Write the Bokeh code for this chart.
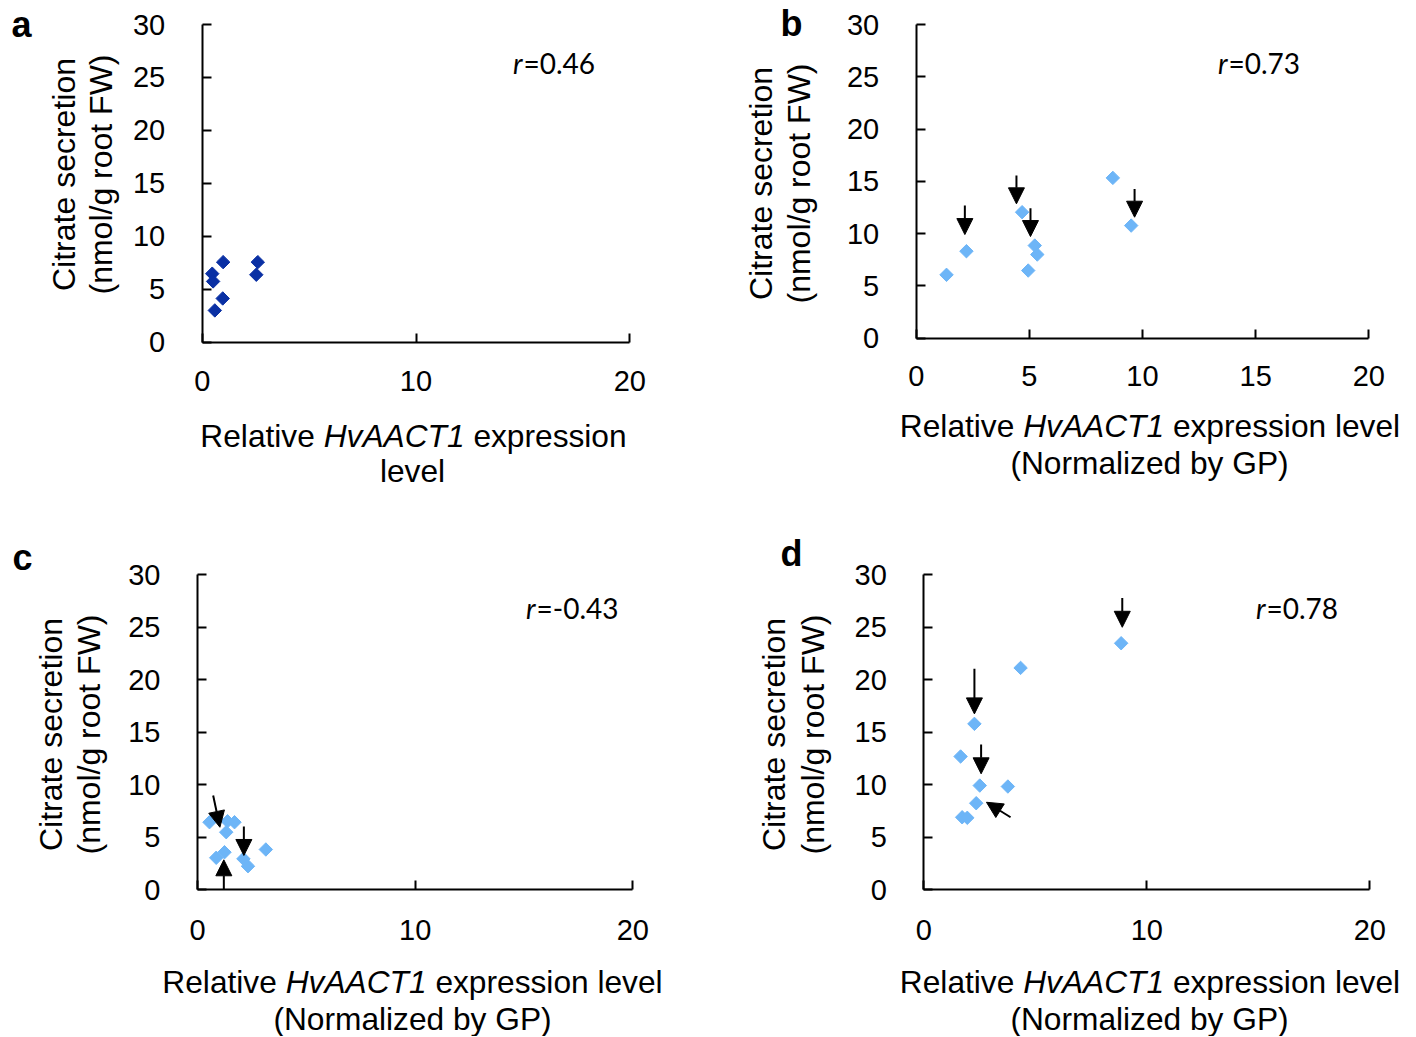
import math
from bokeh.plotting import figure
from bokeh.models import Range1d, FixedTicker, Label, Arrow, NormalHead, LinearAxis
from bokeh.layouts import column, row
from bokeh.embed import file_html
from bokeh.resources import INLINE

# ---------------- data ----------------
a_x = [0.98, 2.60, 2.53, 0.47, 0.51, 0.96, 0.59]
a_y = [7.56, 7.56, 6.37, 6.47, 5.74, 4.13, 3.00]

b_x = [1.34, 2.22, 4.68, 5.24, 5.35, 4.95, 8.69, 9.50]
b_y = [6.06, 8.32, 12.05, 8.86, 8.00, 6.47, 15.33, 10.77]

c_x = [0.55, 1.38, 1.70, 1.32, 0.86, 1.24, 2.11, 2.32, 3.14]
c_y = [6.43, 6.52, 6.43, 5.48, 3.04, 3.57, 2.94, 2.24, 3.83]

d_x = [8.85, 4.34, 2.27, 1.65, 2.51, 3.77, 2.35, 1.72, 1.95]
d_y = [23.48, 21.13, 15.80, 12.69, 9.92, 9.83, 8.24, 6.90, 6.85]

# arrows: (x_start, y_start, x_end, y_end) in data units
b_arrows = [(2.15, 12.69, 2.15, 9.91), (4.43, 15.55, 4.43, 12.85),
            (5.05, 12.43, 5.05, 9.72), (9.65, 14.28, 9.65, 11.57)]
c_arrows = [(0.72, 8.97, 1.03, 5.95), (2.13, 6.02, 2.13, 3.26),
            (1.21, 0.0, 1.21, 2.85)]
d_arrows = [(8.90, 27.8, 8.90, 25.0), (2.27, 21.04, 2.27, 16.75),
            (2.57, 13.83, 2.57, 11.04), (3.89, 6.90, 2.81, 8.33)]

r_values = ["=0.46", "=0.73", "=-0.43", "=0.78"]
panel_letters = ["a", "b", "c", "d"]
y_label_lines = ["Citrate secretion", "(nmol/g root FW)"]
x_label_pieces = ["Relative ", "HvAACT1", " expression level"]
x_label_pieces_a = ["Relative ", "HvAACT1", " expression"]
x_label_second_a = "level"
x_label_second = "(Normalized by GP)"
b_xticks = [0, 5, 10, 15, 20]
xticks = [0, 10, 20]
yticks = [0, 5, 10, 15, 20, 25, 30]

DARK = "#0a30a4"
LIGHT = "#6db5f7"
FONT = "Liberation Sans"
XLAB_SIZE = 31.7

ARIAL = {" ": 278, "(": 333, ")": 333, "1": 556, "A": 667, "C": 722, "G": 778,
         "H": 722, "N": 722, "P": 667, "R": 722, "T": 611, "a": 556, "b": 556,
         "d": 556, "e": 556, "i": 222, "l": 222, "m": 833, "n": 556, "o": 556,
         "p": 556, "r": 333, "s": 500, "t": 278, "v": 500, "x": 500, "y": 500,
         "z": 500}


def tw(s, size):
    return sum(ARIAL.get(ch, 556) for ch in s) / 1000.0 * size


def frame_ranges(spec):
    sx = (spec["R"] - spec["L"]) / 20.0
    sy = (spec["B"] - spec["T"]) / 30.0
    x0 = (spec["ox"] - spec["L"]) / sx
    x1 = (spec["ox"] + spec["W"] - spec["L"]) / sx
    y0 = (spec["B"] - (spec["oy"] + spec["H"])) / sy
    y1 = (spec["B"] - spec["oy"]) / sy
    return (x0, x1), (y0, y1)


def to_data(spec, px, py):
    sx = (spec["R"] - spec["L"]) / 20.0
    sy = (spec["B"] - spec["T"]) / 30.0
    return (px - spec["L"]) / sx, (spec["B"] - py) / sy


def style_axis(ax, ticks, so):
    ax.ticker = FixedTicker(ticks=ticks)
    ax.axis_line_width = 2
    ax.axis_line_color = "black"
    ax.major_tick_line_width = 2
    ax.major_tick_line_color = "black"
    ax.major_tick_in = 9
    ax.major_tick_out = 0
    ax.minor_tick_line_color = None
    ax.major_label_text_font = FONT
    ax.major_label_text_font_size = "29px"
    ax.major_label_text_color = "black"
    ax.major_label_standoff = so


def make_panel(spec):
    xr, yr = frame_ranges(spec)
    p = figure(width=spec["W"], height=spec["H"], x_range=Range1d(*xr),
               y_range=Range1d(*yr), output_backend="svg",
               toolbar_location=None, title=None,
               x_axis_location=None, y_axis_location=None,
               min_border=0, min_border_left=0, min_border_right=0,
               min_border_top=0, min_border_bottom=0)
    p.outline_line_color = None
    p.xgrid.visible = False
    p.ygrid.visible = False
    p.background_fill_color = "white"
    p.border_fill_color = "white"
    xa = LinearAxis(fixed_location=0, bounds=(0, 20))
    style_axis(xa, spec["xticks"], spec["xso"])
    ya = LinearAxis(fixed_location=0, bounds=(0, 30))
    style_axis(ya, yticks, 37)
    p.add_layout(xa, "below")
    p.add_layout(ya, "left")
    return p


def add_text(p, spec, px, py, text, size, align="center", baseline="middle",
             angle=0.0, style="normal", font=FONT):
    x, y = to_data(spec, px, py)
    p.add_layout(Label(x=x, y=y, text=text, text_font=font,
                       text_font_size=size, text_align=align,
                       text_baseline=baseline, angle=angle,
                       text_font_style=style, text_color="black"))


def add_xlabel(p, spec, cx, cy, pieces, size):
    widths = [tw(s, size) for s in pieces]
    cur = cx - sum(widths) / 2.0
    for i, s in enumerate(pieces):
        lead = len(s) - len(s.lstrip(" "))
        add_text(p, spec, cur + tw(" " * lead, size), cy, s.strip(), f"{size}px",
                 align="left", style="italic" if i == 1 else "normal")
        cur += widths[i]


TOP_H = 530
BOT_H = 506
specs = [
    dict(W=708, H=TOP_H, ox=0, oy=0, L=201.7, R=629.3, T=24, B=341.7,
         xticks=xticks, xso=29, xs=a_x, ys=a_y, color=DARK, arrows=[],
         letter=(11, 24), r=(522, 62), ylab=(63, 100, 174),
         xlab=(413, 435, 412, 470)),
    dict(W=708, H=TOP_H, ox=708, oy=0, L=915.7, R=1368.3, T=24, B=337.7,
         xticks=b_xticks, xso=28, xs=b_x, ys=b_y, color=LIGHT, arrows=b_arrows,
         letter=(780, 23), r=(1227, 62), ylab=(760, 798, 183),
         xlab=(1149.5, 425, 1149, 462)),
    dict(W=708, H=BOT_H, ox=0, oy=TOP_H, L=197, R=632.3, T=574.3, B=889.2,
         xticks=xticks, xso=30, xs=c_x, ys=c_y, color=LIGHT, arrows=c_arrows,
         letter=(12, 557), r=(535, 607), ylab=(50, 88, 734),
         xlab=(412, 981, 412, 1018)),
    dict(W=708, H=BOT_H, ox=708, oy=TOP_H, L=923.3, R=1369.3, T=574.3, B=889.2,
         xticks=xticks, xso=30, xs=d_x, ys=d_y, color=LIGHT, arrows=d_arrows,
         letter=(780, 553), r=(1265, 607), ylab=(773, 812, 734),
         xlab=(1149.5, 981, 1149, 1018)),
]

panels = []
for i, s in enumerate(specs):
    p = make_panel(s)
    p.scatter(s["xs"], s["ys"], marker="square", angle=math.pi / 4, size=9.5,
              fill_color=s["color"], line_color=s["color"])
    for (x0, y0, x1, y1) in s["arrows"]:
        p.add_layout(Arrow(end=NormalHead(size=16, fill_color="black",
                                          line_color="black", line_width=1),
                           x_start=x0, y_start=y0, x_end=x1, y_end=y1,
                           line_width=2, line_color="black"))
    add_text(p, s, s["letter"][0], s["letter"][1], panel_letters[i], "36px",
             align="left", baseline="middle", style="bold")
    add_text(p, s, s["r"][0], s["r"][1], "r", "28px", align="right",
             baseline="middle", style="italic", font="Lato")
    add_text(p, s, s["r"][0] + 1, s["r"][1], r_values[i], "28px", align="left",
             baseline="middle", font="Lato")
    l1x, l2x, ly = s["ylab"]
    add_text(p, s, l1x, ly, y_label_lines[0], "32px", angle=math.pi / 2)
    add_text(p, s, l2x, ly, y_label_lines[1], "32px", angle=math.pi / 2)
    c1x, c1y, c2x, c2y = s["xlab"]
    if i == 0:
        add_xlabel(p, s, c1x, c1y, x_label_pieces_a, XLAB_SIZE)
        add_text(p, s, c2x, c2y, x_label_second_a, f"{XLAB_SIZE}px")
    else:
        add_xlabel(p, s, c1x, c1y, x_label_pieces, XLAB_SIZE)
        add_text(p, s, c2x, c2y, x_label_second, f"{XLAB_SIZE}px")
    panels.append(p)

layout = column(row(panels[0], panels[1]), row(panels[2], panels[3]))
open("out.html", "w").write(file_html(layout, INLINE))
